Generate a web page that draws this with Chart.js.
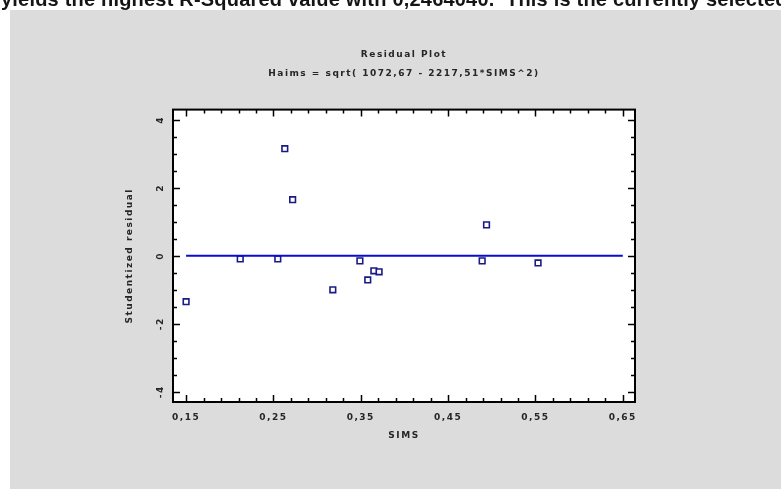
<!DOCTYPE html>
<html>
<head>
<meta charset="utf-8">
<title>Residual Plot</title>
<script src="https://cdn.jsdelivr.net/npm/chart.js@4.4.1/dist/chart.umd.min.js"></script>
<style>
  html, body { margin: 0; padding: 0; width: 781px; height: 489px; overflow: hidden; background: #fff; }
  #wrap { position: absolute; left: 0; top: 0; width: 781px; height: 489px; }
  #intro {
    position: absolute; left: 1px; top: -12px;
    font: bold 20px "Liberation Sans", Arial, sans-serif;
    letter-spacing: 0.2px;
    color: #151515; white-space: nowrap;
  }
</style>
</head>
<body>
<div id="wrap"><canvas id="residualPlot" width="781" height="489"></canvas></div>
<div id="intro">yields the highest R-Squared value with 0,2464040.&nbsp; This is the currently selected</div>
<script>
// SIMS values and their studentized residuals
var simsValues = [0.150, 0.212, 0.255, 0.263, 0.272, 0.318, 0.349, 0.358, 0.365, 0.371, 0.489, 0.494, 0.553];
var residuals  = [-1.35, -0.09, -0.09, 3.15, 1.65, -1.00, -0.15, -0.71, -0.44, -0.47, -0.15, 0.91, -0.21];

// zero reference line
var baselineX = [0.15, 0.65];
var baselineY = [0, 0];

// axis ticks
var xTicks = [0.15, 0.25, 0.35, 0.45, 0.55, 0.65];
var xTickLabels = ['0,15', '0,25', '0,35', '0,45', '0,55', '0,65'];
var yTicks = [-4, -2, 0, 2, 4];
var yTickLabels = ['-4', '-2', '0', '2', '4'];

var FONT = '"DejaVu Sans", "Liberation Sans", Arial, sans-serif';
var TEXT = '#262626';

function pairs(xs, ys) {
  return xs.map(function (x, i) { return { x: x, y: ys[i] }; });
}

// grey window with a white plotting area
var panelPlugin = {
  id: 'panel',
  beforeDraw: function (chart) {
    var ctx = chart.ctx, a = chart.chartArea;
    ctx.save();
    ctx.fillStyle = '#ffffff';
    ctx.fillRect(0, 0, chart.width, chart.height);
    ctx.fillStyle = '#dcdcdc';
    ctx.fillRect(10, 10, chart.width - 10, chart.height - 10);
    ctx.fillStyle = '#ffffff';
    ctx.fillRect(a.left, a.top, a.right - a.left, a.bottom - a.top);
    ctx.restore();
    // the old bitmap fonts are widely spaced
    ctx.letterSpacing = '1.5px';
  }
};

// black frame with inward ticks on all four sides
var framePlugin = {
  id: 'frame',
  afterDraw: function (chart) {
    var ctx = chart.ctx, a = chart.chartArea;
    var xs = chart.scales.x, ys = chart.scales.y;
    var i, v, p, len;
    ctx.save();
    ctx.strokeStyle = '#000';
    ctx.lineWidth = 1.5;
    ctx.beginPath();
    for (i = 0; i <= 25; i++) {
      v = 0.15 + i * 0.02;
      p = Math.round(xs.getPixelForValue(v)) + 0.5;
      len = i % 5 === 0 ? 7 : 4;
      ctx.moveTo(p, a.bottom); ctx.lineTo(p, a.bottom - len);
      ctx.moveTo(p, a.top); ctx.lineTo(p, a.top + len);
    }
    for (i = 0; i <= 16; i++) {
      v = -4 + i * 0.5;
      p = Math.round(ys.getPixelForValue(v)) + 0.5;
      len = i % 4 === 0 ? 7 : 4;
      ctx.moveTo(a.left, p); ctx.lineTo(a.left + len, p);
      ctx.moveTo(a.right, p); ctx.lineTo(a.right - len, p);
    }
    ctx.stroke();
    ctx.lineWidth = 2;
    ctx.strokeRect(a.left, a.top, a.right - a.left, a.bottom - a.top);
    ctx.restore();
  }
};

new Chart(document.getElementById('residualPlot'), {
  type: 'scatter',
  data: {
    datasets: [{
      type: 'line',
      data: pairs(baselineX, baselineY),
      borderColor: '#0a0ad2',
      borderWidth: 2,
      pointRadius: 0,
      fill: false
    }, {
      data: pairs(simsValues, residuals),
      pointStyle: 'rect',
      pointRadius: 4,
      pointBorderWidth: 1.6,
      pointBackgroundColor: '#ffffff',
      pointBorderColor: '#1a1a86'
    }]
  },
  options: {
    responsive: false,
    animation: false,
    events: [],
    layout: { padding: { left: 0, right: 146, top: 0, bottom: 0 } },
    plugins: {
      legend: { display: false },
      tooltip: { enabled: false },
      title: {
        display: true,
        fullSize: false,
        text: 'Residual Plot',
        color: TEXT,
        font: { family: FONT, size: 9, weight: 'bold', lineHeight: 1.2 },
        padding: { top: 49, bottom: 4 }
      },
      subtitle: {
        display: true,
        fullSize: false,
        text: 'Haims = sqrt( 1072,67 - 2217,51*SIMS^2)',
        color: TEXT,
        font: { family: FONT, size: 9, weight: 'bold', lineHeight: 1.2 },
        padding: { top: 4, bottom: 31 }
      }
    },
    scales: {
      x: {
        type: 'linear',
        min: 0.135,
        max: 0.664,
        grid: { display: false, drawTicks: false },
        border: { display: false },
        afterBuildTicks: function (s) { s.ticks = xTicks.map(function (v) { return { value: v }; }); },
        afterFit: function (s) { s.height = 87; },
        ticks: {
          autoSkip: false, maxRotation: 0, padding: 10, color: TEXT,
          font: { family: FONT, size: 9, weight: 'bold' },
          callback: function (v, i) { return xTickLabels[i]; }
        },
        title: {
          display: true, text: 'SIMS', color: TEXT,
          font: { family: FONT, size: 9, weight: 'bold', lineHeight: 1.2 },
          padding: { top: 0, bottom: 48 }
        }
      },
      y: {
        type: 'linear',
        min: -4.3,
        max: 4.3,
        grid: { display: false, drawTicks: false },
        border: { display: false },
        afterBuildTicks: function (s) { s.ticks = yTicks.map(function (v) { return { value: v }; }); },
        afterFit: function (s) { s.width = 173; },
        ticks: {
          autoSkip: false, minRotation: 90, maxRotation: 90, crossAlign: 'center',
          padding: 7, color: TEXT,
          font: { family: FONT, size: 9, weight: 'bold' },
          callback: function (v, i) { return yTickLabels[i]; }
        },
        title: {
          display: true, text: 'Studentized residual', color: TEXT,
          font: { family: FONT, size: 9, weight: 'bold', lineHeight: 1.2 },
          padding: { top: 124, bottom: 0 }
        }
      }
    }
  },
  plugins: [panelPlugin, framePlugin]
});
</script>
</body>
</html>
